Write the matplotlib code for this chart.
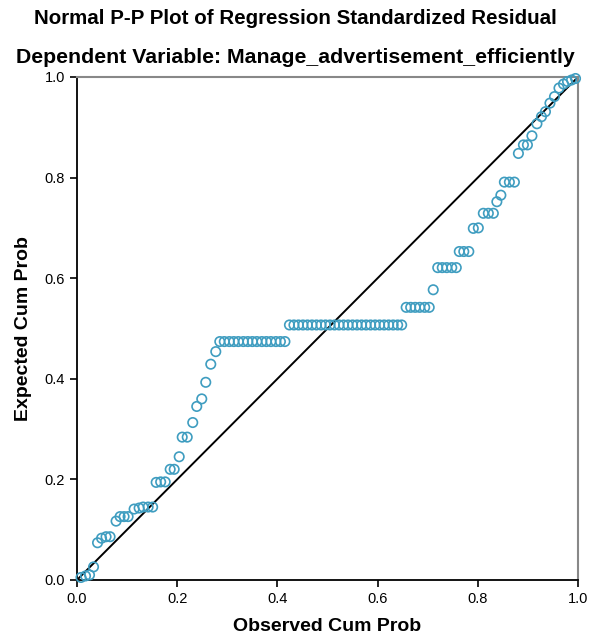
import matplotlib
matplotlib.use("Agg")
import matplotlib.pyplot as plt

plt.rcParams['font.family'] = ['Liberation Sans', 'DejaVu Sans']

# observed cumulative probability (x) and expected cumulative probability (y)
observed = [0.008, 0.017, 0.025, 0.033, 0.041, 0.049, 0.058, 0.066, 0.078, 0.086,
            0.094, 0.102, 0.114, 0.124, 0.132, 0.142, 0.151, 0.158, 0.167, 0.176,
            0.186, 0.194, 0.204, 0.210, 0.220, 0.231, 0.239, 0.249, 0.257, 0.267,
            0.277,
            0.285, 0.294, 0.304, 0.313, 0.322, 0.332, 0.341, 0.350, 0.359, 0.369,
            0.378, 0.387, 0.397, 0.406, 0.415,
            0.424, 0.433, 0.442, 0.451, 0.460, 0.469, 0.478, 0.487, 0.496, 0.505,
            0.514, 0.523, 0.532, 0.541, 0.550, 0.559, 0.568, 0.577, 0.586, 0.595,
            0.604, 0.613, 0.622, 0.631, 0.640, 0.648,
            0.657, 0.666, 0.675, 0.684, 0.694, 0.703, 0.711,
            0.720, 0.729, 0.738, 0.748, 0.757, 0.763, 0.772, 0.782,
            0.791, 0.801, 0.811, 0.821, 0.831, 0.838, 0.846,
            0.853, 0.863, 0.873, 0.881, 0.891, 0.899, 0.908, 0.918,
            0.927, 0.935, 0.944, 0.953, 0.962, 0.971, 0.979, 0.987, 0.995]
expected = [0.005, 0.008, 0.010, 0.026, 0.074, 0.083, 0.086, 0.086, 0.117, 0.126,
            0.126, 0.126, 0.141, 0.143, 0.145, 0.145, 0.145, 0.194, 0.195, 0.195,
            0.220, 0.220, 0.245, 0.284, 0.284, 0.313, 0.345, 0.360, 0.393, 0.429,
            0.454,
            0.474, 0.474, 0.474, 0.474, 0.474, 0.474, 0.474, 0.474, 0.474, 0.474,
            0.474, 0.474, 0.474, 0.474, 0.474,
            0.507, 0.507, 0.507, 0.507, 0.507, 0.507, 0.507, 0.507, 0.507, 0.507,
            0.507, 0.507, 0.507, 0.507, 0.507, 0.507, 0.507, 0.507, 0.507, 0.507,
            0.507, 0.507, 0.507, 0.507, 0.507, 0.507,
            0.542, 0.542, 0.542, 0.542, 0.542, 0.542, 0.577,
            0.621, 0.621, 0.621, 0.621, 0.621, 0.653, 0.653, 0.653,
            0.699, 0.700, 0.729, 0.729, 0.729, 0.752, 0.765,
            0.791, 0.791, 0.791, 0.848, 0.865, 0.865, 0.883, 0.907,
            0.921, 0.931, 0.948, 0.961, 0.978, 0.986, 0.991, 0.994, 0.997]

ticks = [0.0, 0.2, 0.4, 0.6, 0.8, 1.0]
tick_labels = ['0.0', '0.2', '0.4', '0.6', '0.8', '1.0']

fig = plt.figure(figsize=(5.9, 6.41), dpi=100)
ax = fig.add_axes([0.1305, 0.0952, 0.8492, 0.7847])

ax.plot([0, 1], [0, 1], color='black', lw=1.4, zorder=2)
ax.scatter(observed, expected, s=46, facecolors='none', edgecolors='#3f9dc0',
           linewidths=1.2, zorder=3, clip_on=False)

ax.set_xlim(0, 1)
ax.set_ylim(0, 1)
ax.set_xticks(ticks)
ax.set_xticklabels(tick_labels)
ax.set_yticks(ticks)
ax.set_yticklabels(tick_labels)
ax.tick_params(direction='out', length=5, width=1.2, labelsize=10.5, colors='black')

for side in ['left', 'bottom']:
    ax.spines[side].set_color('black')
    ax.spines[side].set_linewidth(1.3)
for side in ['top', 'right']:
    ax.spines[side].set_color('#888888')
    ax.spines[side].set_linewidth(1.5)

ax.set_xlabel('Observed Cum Prob', fontsize=14, fontweight='bold', labelpad=9)
ax.set_ylabel('Expected Cum Prob', fontsize=14, fontweight='bold', labelpad=9)

fig.text(0.5, 0.971, 'Normal P-P Plot of Regression Standardized Residual',
         ha='center', va='center', fontsize=14.8, fontweight='bold')
fig.text(0.5, 0.911, 'Dependent Variable: Manage_advertisement_efficiently',
         ha='center', va='center', fontsize=15.3, fontweight='bold')

fig.savefig('out.png', dpi=100)
